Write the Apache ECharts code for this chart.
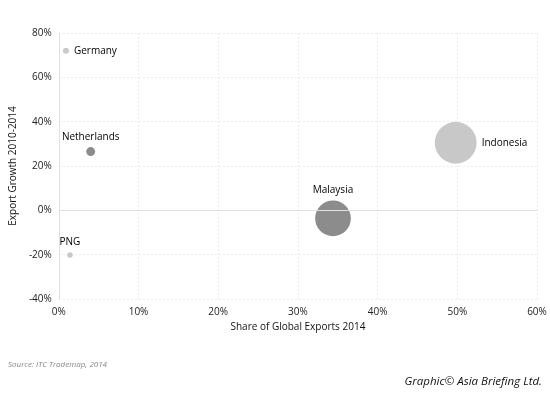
<!DOCTYPE html>
<html><head><meta charset="utf-8">
<script src="https://cdn.jsdelivr.net/npm/echarts@6/dist/echarts.min.js"></script>
<style>html,body{margin:0;padding:0;background:#fff}#c{width:550px;height:394px}</style>
</head><body><div id="c"></div>
<script>
const countries = ['Germany','Netherlands','PNG','Indonesia','Malaysia'];
const shareOfGlobalExports = [0.9, 4.0, 1.4, 49.8, 34.4];
const exportGrowth = [72, 26.5, -20.2, 30.5, -3.6];
const bubbleWeight = [1.4, 3.2, 1.2, 70, 51];
const xTicks = [0,10,20,30,40,50,60];
const yTicks = [-40,-20,0,20,40,60,80];

const labelPos = ['right','top','top','right','top'];
const colors = ['#c8c8c8','#8c8c8c','#c8c8c8','#c8c8c8','#8c8c8c'];
const FONT = 'Open Sans';

const data = countries.map((n,i)=>({
  name:n,
  value:[shareOfGlobalExports[i], exportGrowth[i], bubbleWeight[i]],
  itemStyle:{color:colors[i],opacity:1},
  label:{position:labelPos[i]}
}));

const chart = echarts.init(document.getElementById('c'));
chart.setOption({
  animation:false,
  grid:{left:57,right:13,top:33,bottom:95},
  xAxis:{
    type:'value',min:xTicks[0],max:xTicks[xTicks.length-1],interval:10,
    name:'Share of Global Exports 2014',nameLocation:'middle',nameGap:17,
    nameTextStyle:{fontFamily:FONT,fontSize:10,color:'#111'},
    axisLine:{show:false},axisTick:{show:false},
    axisLabel:{formatter:'{value}%',fontFamily:FONT,fontSize:10,color:'#222',margin:8},
    splitLine:{lineStyle:{color:'#ececec',type:[2,2]}}
  },
  yAxis:{
    type:'value',min:yTicks[0],max:yTicks[yTicks.length-1],interval:20,
    name:'Export Growth 2010-2014',nameLocation:'middle',nameGap:37,
    nameTextStyle:{fontFamily:FONT,fontSize:10,color:'#111'},
    axisLine:{show:true,onZero:false,lineStyle:{color:'#e0e0e0'}},axisTick:{show:false},
    axisLabel:{formatter:'{value}%',fontFamily:FONT,fontSize:10,color:'#222',margin:7},
    splitLine:{lineStyle:{color:'#ececec',type:[2,2]}}
  },
  series:[{
    type:'scatter',
    data:data,
    symbolSize:v=>5*Math.sqrt(v[2]),
    label:{show:true,formatter:'{b}',fontFamily:FONT,fontSize:10,color:'#000',distance:5},
    emphasis:{disabled:true},
    markLine:{silent:true,symbol:'none',label:{show:false},
      lineStyle:{color:'#e0e0e0',type:'solid',width:1},data:[{yAxis:0}]}
  }],
  graphic:[
    {type:'text',left:8,top:361,style:{text:'Source: ITC Trademap, 2014',fontFamily:FONT,fontSize:8,fontStyle:'italic',fill:'#888'}},
    {type:'text',right:8,top:376,style:{text:'Graphic© Asia Briefing Ltd.',fontFamily:FONT,fontSize:11.5,fontStyle:'italic',fill:'#111'}}
  ]
});
</script></body></html>
